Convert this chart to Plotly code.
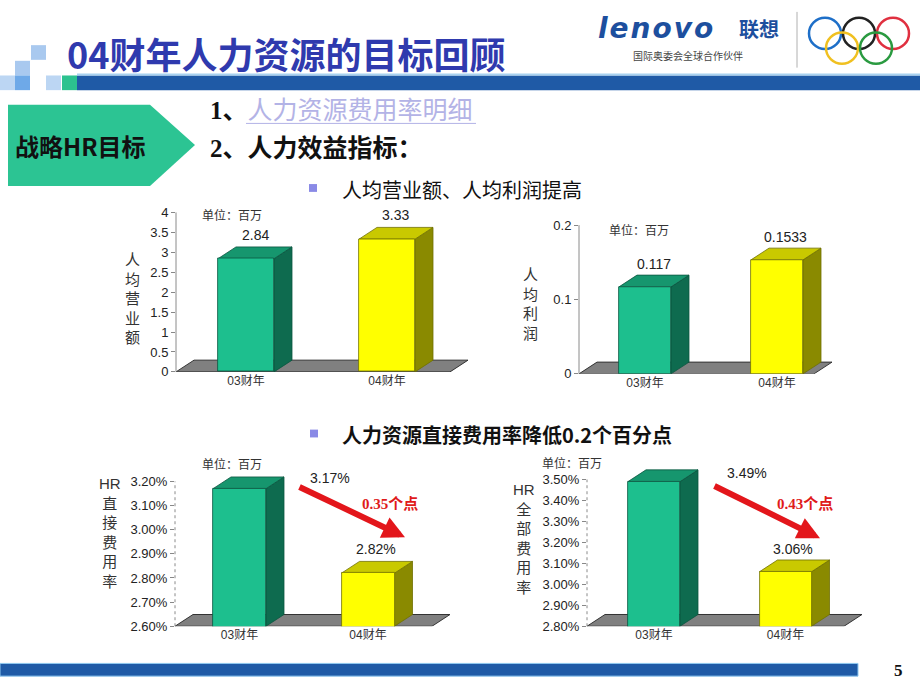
import plotly.graph_objects as go

W, H = 920, 690

# ---- 数据 ----
years = ["03财年", "04财年"]
rev_per_head = [2.84, 3.33]          # 人均营业额（百万）
profit_per_head = [0.117, 0.1533]    # 人均利润（百万）
hr_direct_rate = [0.0317, 0.0282]    # HR直接费用率
hr_total_rate = [0.0349, 0.0306]     # HR全部费用率
drop_text = ["0.35个点", "0.43个点"]

# ---- 样式 ----
SANS = "Arial, 'Liberation Sans', 'Noto Sans CJK SC', sans-serif"
CJK = "'Noto Sans CJK SC', 'Liberation Sans', sans-serif"
SERIF = "'Liberation Serif', 'Times New Roman', 'Noto Sans CJK SC', serif"
FACE = [
    dict(front="#1dbf8e", side="#0e6b4f", top="#16966e", edge="#0b5640"),
    dict(front="#ffff00", side="#8a8a00", top="#c9c900", edge="#707000"),
]
DEPTH_X, DEPTH_Y = 18, 12   # 立体深度（像素）


def px(x):
    return x / W


def py(y):
    return 1 - y / H


def path(pts):
    return "M " + " L ".join(f"{x},{y}" for x, y in pts) + " Z"


def note(x, y, text, size, color="#111", family=CJK, xa="center", ya="middle", **kw):
    # 页面坐标（像素）下的文字
    return dict(x=px(x), y=py(y), xref="paper", yref="paper", text=text, showarrow=False,
                xanchor=xa, yanchor=ya, font=dict(size=size, color=color, family=family), **kw)


# 每个小图的版面位置（像素）
panels = [
    dict(vals=rev_per_head, ax=176, c0=246, c1=387, right=468, b=373, t=210, lo=0, hi=4,
         dtick=0.5, fmt="", bw=56, pad=0, dash="solid",
         ytitle="人<br>均<br>营<br>业<br>额", tpos=(132, 298), upos=(232, 212),
         lab=[(9, 24), (8, 24)]),
    dict(vals=profit_per_head, ax=579, c0=645, c1=777, right=832, b=375, t=223, lo=0, hi=0.2,
         dtick=0.1, fmt="", bw=52, pad=0, dash="solid",
         ytitle="人<br>均<br>利<br>润", tpos=(530, 304), upos=(639, 227),
         lab=[(9, 23), (8, 23)]),
    dict(vals=hr_direct_rate, ax=175, c0=239.5, c1=368, right=450, b=633, t=485, lo=0.026, hi=0.032,
         dtick=0.001, fmt=".2%", bw=53, pad=16, dash="dot",
         ytitle="HR<br>直<br>接<br>费<br>用<br>率", tpos=(110, 537), upos=(232, 467),
         lab=[(90, 11), (8, 24)], arrow=((298, 491), (405, 542)), drop=(390, 508)),
    dict(vals=hr_total_rate, ax=587, c0=654, c1=785.5, right=862, b=633, t=483, lo=0.028, hi=0.035,
         dtick=0.001, fmt=".2%", bw=52, pad=16, dash="dot",
         ytitle="HR<br>全<br>部<br>费<br>用<br>率", tpos=(524, 543), upos=(572, 466),
         lab=[(93, 9), (7, 23)], arrow=((713, 490), (820, 543)), drop=(805, 508)),
]

fig = go.Figure()
shapes = []
annos = []
layout_axes = {}

for k, p in enumerate(panels):
    n = "" if k == 0 else str(k + 1)
    xr_name, yr_name = "x" + n, "y" + n
    sx = p["c1"] - p["c0"]
    sy = (p["b"] - p["t"]) / (p["hi"] - p["lo"])
    x0 = (p["ax"] - p["c0"]) / sx
    x1 = (p["right"] - p["c0"]) / sx
    ytop = p["hi"] + p["pad"] / sy
    bw = p["bw"] / sx
    ddx, ddy = DEPTH_X / sx, DEPTH_Y / sy
    lo = p["lo"]

    layout_axes["xaxis" + n] = dict(
        domain=[px(p["ax"]), px(p["right"])], range=[x0, x1], anchor=yr_name,
        tickvals=[0, 1], ticktext=years, showgrid=False, zeroline=False, showline=False,
        ticks="", tickfont=dict(size=12, color="#333", family=SANS), fixedrange=True)
    layout_axes["yaxis" + n] = dict(
        domain=[py(p["b"]), py(p["t"] - p["pad"])], range=[lo, ytop], anchor=xr_name,
        tick0=lo, dtick=p["dtick"], tickformat=p["fmt"], showgrid=False, zeroline=False,
        showline=False, ticks="outside", ticklen=4, tickcolor="#888",
        tickfont=dict(size=13, color="#222", family=SANS), fixedrange=True)

    # 正面
    fig.add_trace(go.Bar(
        x=[0, 1], y=p["vals"], width=bw, xaxis=xr_name, yaxis=yr_name,
        marker=dict(color=[f["front"] for f in FACE],
                    line=dict(color=[f["edge"] for f in FACE], width=0.8)),
        showlegend=False, hovertemplate="%{y}<extra></extra>"))

    # 底座
    shapes.append(dict(type="path", xref=xr_name, yref=yr_name, layer="below",
                       path=path([(x0, lo), (x1 - ddx, lo), (x1, lo + ddy), (x0 + ddx, lo + ddy)]),
                       fillcolor="#808080", line=dict(color="#333", width=1)))
    # 立体侧面和顶面
    for i, v in enumerate(p["vals"]):
        f = FACE[i]
        xl, xr = i - bw / 2, i + bw / 2
        shapes.append(dict(type="path", xref=xr_name, yref=yr_name, layer="below",
                           path=path([(xr, lo), (xr + ddx, lo + ddy), (xr + ddx, v + ddy), (xr, v)]),
                           fillcolor=f["side"], line=dict(color=f["edge"], width=0.8)))
        shapes.append(dict(type="path", xref=xr_name, yref=yr_name, layer="below",
                           path=path([(xl, v), (xl + ddx, v + ddy), (xr + ddx, v + ddy), (xr, v)]),
                           fillcolor=f["top"], line=dict(color=f["edge"], width=0.8)))
        txt = f"{v:.2%}" if p["fmt"] else f"{v:g}"
        annos.append(dict(x=i, y=v, xref=xr_name, yref=yr_name, text=txt, showarrow=False,
                          xanchor="center", yanchor="middle",
                          xshift=p["lab"][i][0], yshift=p["lab"][i][1],
                          font=dict(size=14, color="#222", family=SANS)))

    # 纵轴线
    shapes.append(dict(type="line", xref="paper", yref="paper",
                       x0=px(p["ax"]), x1=px(p["ax"]), y0=py(p["b"]), y1=py(p["t"]),
                       line=dict(color="#8a8a8a", width=1, dash=p["dash"])))
    # 轴标题与单位
    annos.append(note(*p["tpos"], p["ytitle"], 15, "#333", SANS, align="center"))
    annos.append(note(*p["upos"], "单位：百万", 12, "#333"))
    # 降幅箭头
    if "arrow" in p:
        (tx, ty), (hx, hy) = p["arrow"]
        annos.append(dict(x=px(hx), y=py(hy), xref="paper", yref="paper", text="",
                          showarrow=True, ax=tx - hx, ay=ty - hy, arrowhead=2, arrowsize=0.75,
                          arrowwidth=6, arrowcolor="#e3161b", standoff=0))
        annos.append(note(*p["drop"], "<b>" + drop_text[k - 2] + "</b>", 15, "#e01b1b", SERIF))


# ---- 页面装饰 ----
def rect(x0, y0, x1, y1, fill, line=None, lw=0):
    return dict(type="rect", xref="paper", yref="paper", x0=px(x0), x1=px(x1),
                y0=py(y1), y1=py(y0), fillcolor=fill,
                line=dict(color=line or fill, width=lw), layer="below")


# 左上方块
shapes += [
    rect(31, 39, 46, 54, "#a9c9ef"), rect(15, 55, 30, 70, "#a9c9ef"),
    rect(0, 70, 15, 85, "#bcd6f3"), rect(15, 70, 30, 85, "#6ea9e8"),
    rect(46, 70, 61, 85, "#bcd6f3"), rect(62, 70, 77, 85, "#2cc28f"),
    rect(77, 70, 920, 85, "#1f5aa6"), rect(77, 68, 920, 70, "#a8d2f0"),
]
# 底部条
shapes += [rect(0, 671, 858, 684, "#1f5aa6", "#8ec8f0", 1)]
# 左侧箭头块
shapes.append(dict(type="path", xref="paper", yref="paper", layer="below",
                   path=path([(px(8), py(100)), (px(150), py(100)), (px(195), py(141)),
                              (px(150), py(183)), (px(8), py(183))]),
                   fillcolor="#2cc493", line=dict(width=0)))
# 项目符号
shapes += [rect(309, 181, 317, 189, "#8a8ae6"), rect(310, 432, 318, 440, "#8a8ae6")]
# 链接下划线
shapes.append(dict(type="line", xref="paper", yref="paper", x0=px(246), x1=px(476),
                   y0=py(119), y1=py(119), line=dict(color="#b3b3e6", width=1)))
# 标志分隔线
shapes.append(dict(type="line", xref="paper", yref="paper", x0=px(797), x1=px(797),
                   y0=py(5), y1=py(62), line=dict(color="#b0b0b0", width=1)))
# 奥运五环
rings = [(825, 27, "#1e6fc8"), (859, 27, "#222222"), (893, 27, "#e03040"),
         (842, 42, "#f0c020"), (876, 42, "#2a9a40")]
for cx, cy, col in rings:
    shapes.append(dict(type="circle", xref="paper", yref="paper",
                       x0=px(cx - 16), x1=px(cx + 16), y0=py(cy + 16), y1=py(cy - 16),
                       line=dict(color=col, width=2.5)))

annos += [
    note(65, 47, "<b>04财年人力资源的目标回顾</b>", 36, "#2f3aae", xa="left"),
    note(80, 142, "<b>战略HR目标</b>", 24),
    note(208, 106, "<b>1、</b><span style='color:#b3b3e6'>人力资源费用率明细</span>", 25,
         family=SERIF, xa="left"),
    note(208, 145, "<b>2、人力效益指标：</b>", 25, family=SERIF, xa="left"),
    note(340, 187, "人均营业额、人均利润提高", 20, xa="left"),
    note(340, 437, "<b>人力资源直接费用率降低0.2个百分点</b>", 20, xa="left"),
    note(898, 678, "<b>5</b>", 17, family=SERIF),
    note(596, 22, "<b><i><span style='letter-spacing:2px'>lenovo</span></i></b>", 28,
         "#1d4f9e", "'DejaVu Sans', sans-serif", xa="left"),
    note(737, 22, "<b>联想</b>", 20, "#1d4f9e", xa="left"),
    note(688, 50, "国际奥委会全球合作伙伴", 10, "#444"),
]

fig.update_layout(
    width=W, height=H, margin=dict(l=0, r=0, t=0, b=0),
    paper_bgcolor="white", plot_bgcolor="white",
    shapes=shapes, annotations=annos, showlegend=False, bargap=0,
    **layout_axes,
)

# 页面默认 8px 边距会把整张图往右下推，去掉它
fig.write_html("out.html", config={"displayModeBar": False},
               post_script="document.body.style.margin='0';")
